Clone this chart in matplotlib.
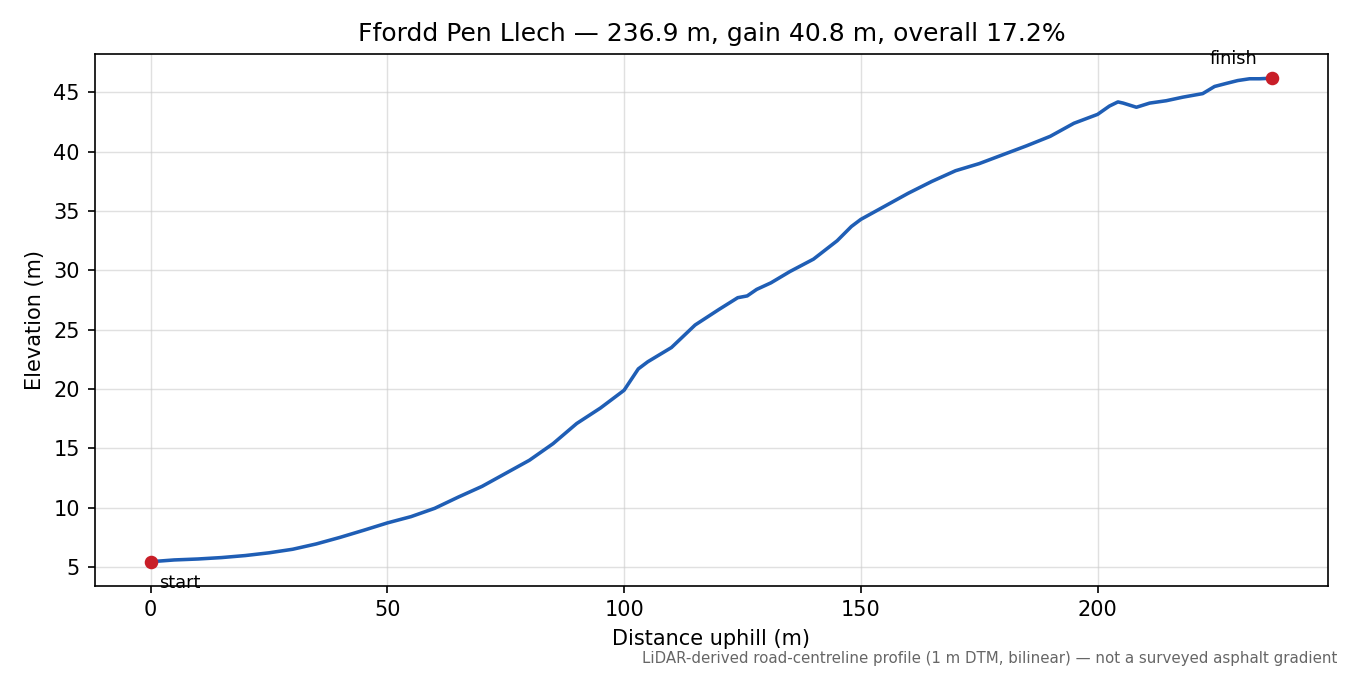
import matplotlib
matplotlib.use("Agg")
import matplotlib.pyplot as plt

dist = [0, 5, 10, 15, 20, 25, 30, 35, 40, 45, 50, 55, 60, 65, 70, 75, 80, 85, 90, 95,
        100, 101, 103, 105, 110, 115, 120, 124, 126, 128, 131, 135, 140, 145, 148, 150,
        155, 160, 165, 170, 175, 180, 185, 190, 195, 200, 202.5, 204.3, 205.4, 208.2,
        211, 214.5, 218, 222.2, 224.7, 227.1, 229.6, 232.1, 234.2, 236.9]
elev = [5.45, 5.6, 5.68, 5.8, 5.97, 6.2, 6.5, 6.95, 7.5, 8.1, 8.72, 9.25, 9.95, 10.9,
        11.8, 12.9, 14.0, 15.4, 17.1, 18.4, 19.9, 20.5, 21.7, 22.3, 23.5, 25.4, 26.7,
        27.7, 27.85, 28.4, 28.95, 29.9, 30.95, 32.5, 33.7, 34.3, 35.4, 36.5, 37.5, 38.4,
        39.0, 39.75, 40.5, 41.3, 42.4, 43.15, 43.85, 44.2, 44.1, 43.75, 44.1, 44.3, 44.6,
        44.9, 45.5, 45.75, 46.0, 46.15, 46.15, 46.2]

title = "Ffordd Pen Llech — 236.9 m, gain 40.8 m, overall 17.2%"
note = "LiDAR-derived road-centreline profile (1 m DTM, bilinear) — not a surveyed asphalt gradient"

fig, ax = plt.subplots(figsize=(9, 4.5), dpi=150)
fig.subplots_adjust(left=0.070, right=0.984, top=0.920, bottom=0.132)

ax.plot(dist, elev, color="#1f5eb5", lw=1.7, zorder=3)
ax.plot([dist[0], dist[-1]], [elev[0], elev[-1]], "o", color="#c81e28", ms=5.5, zorder=4)
ax.annotate("start", (dist[0], elev[0]), xytext=(4, -6), textcoords="offset points",
            ha="left", va="top", fontsize=8.5)
ax.annotate("finish", (dist[-1], elev[-1]), xytext=(-7, 5), textcoords="offset points",
            ha="right", va="bottom", fontsize=8.5)

ax.set_title(title, fontsize=12)
ax.set_xlabel("Distance uphill (m)")
ax.set_ylabel("Elevation (m)")
ax.grid(True, color="#cccccc", alpha=0.6, lw=0.7)
ax.set_axisbelow(True)

fig.text(0.991, 0.013, note, ha="right", va="bottom", fontsize=7.2, color="#666666")

fig.savefig("out.png", dpi=150)
